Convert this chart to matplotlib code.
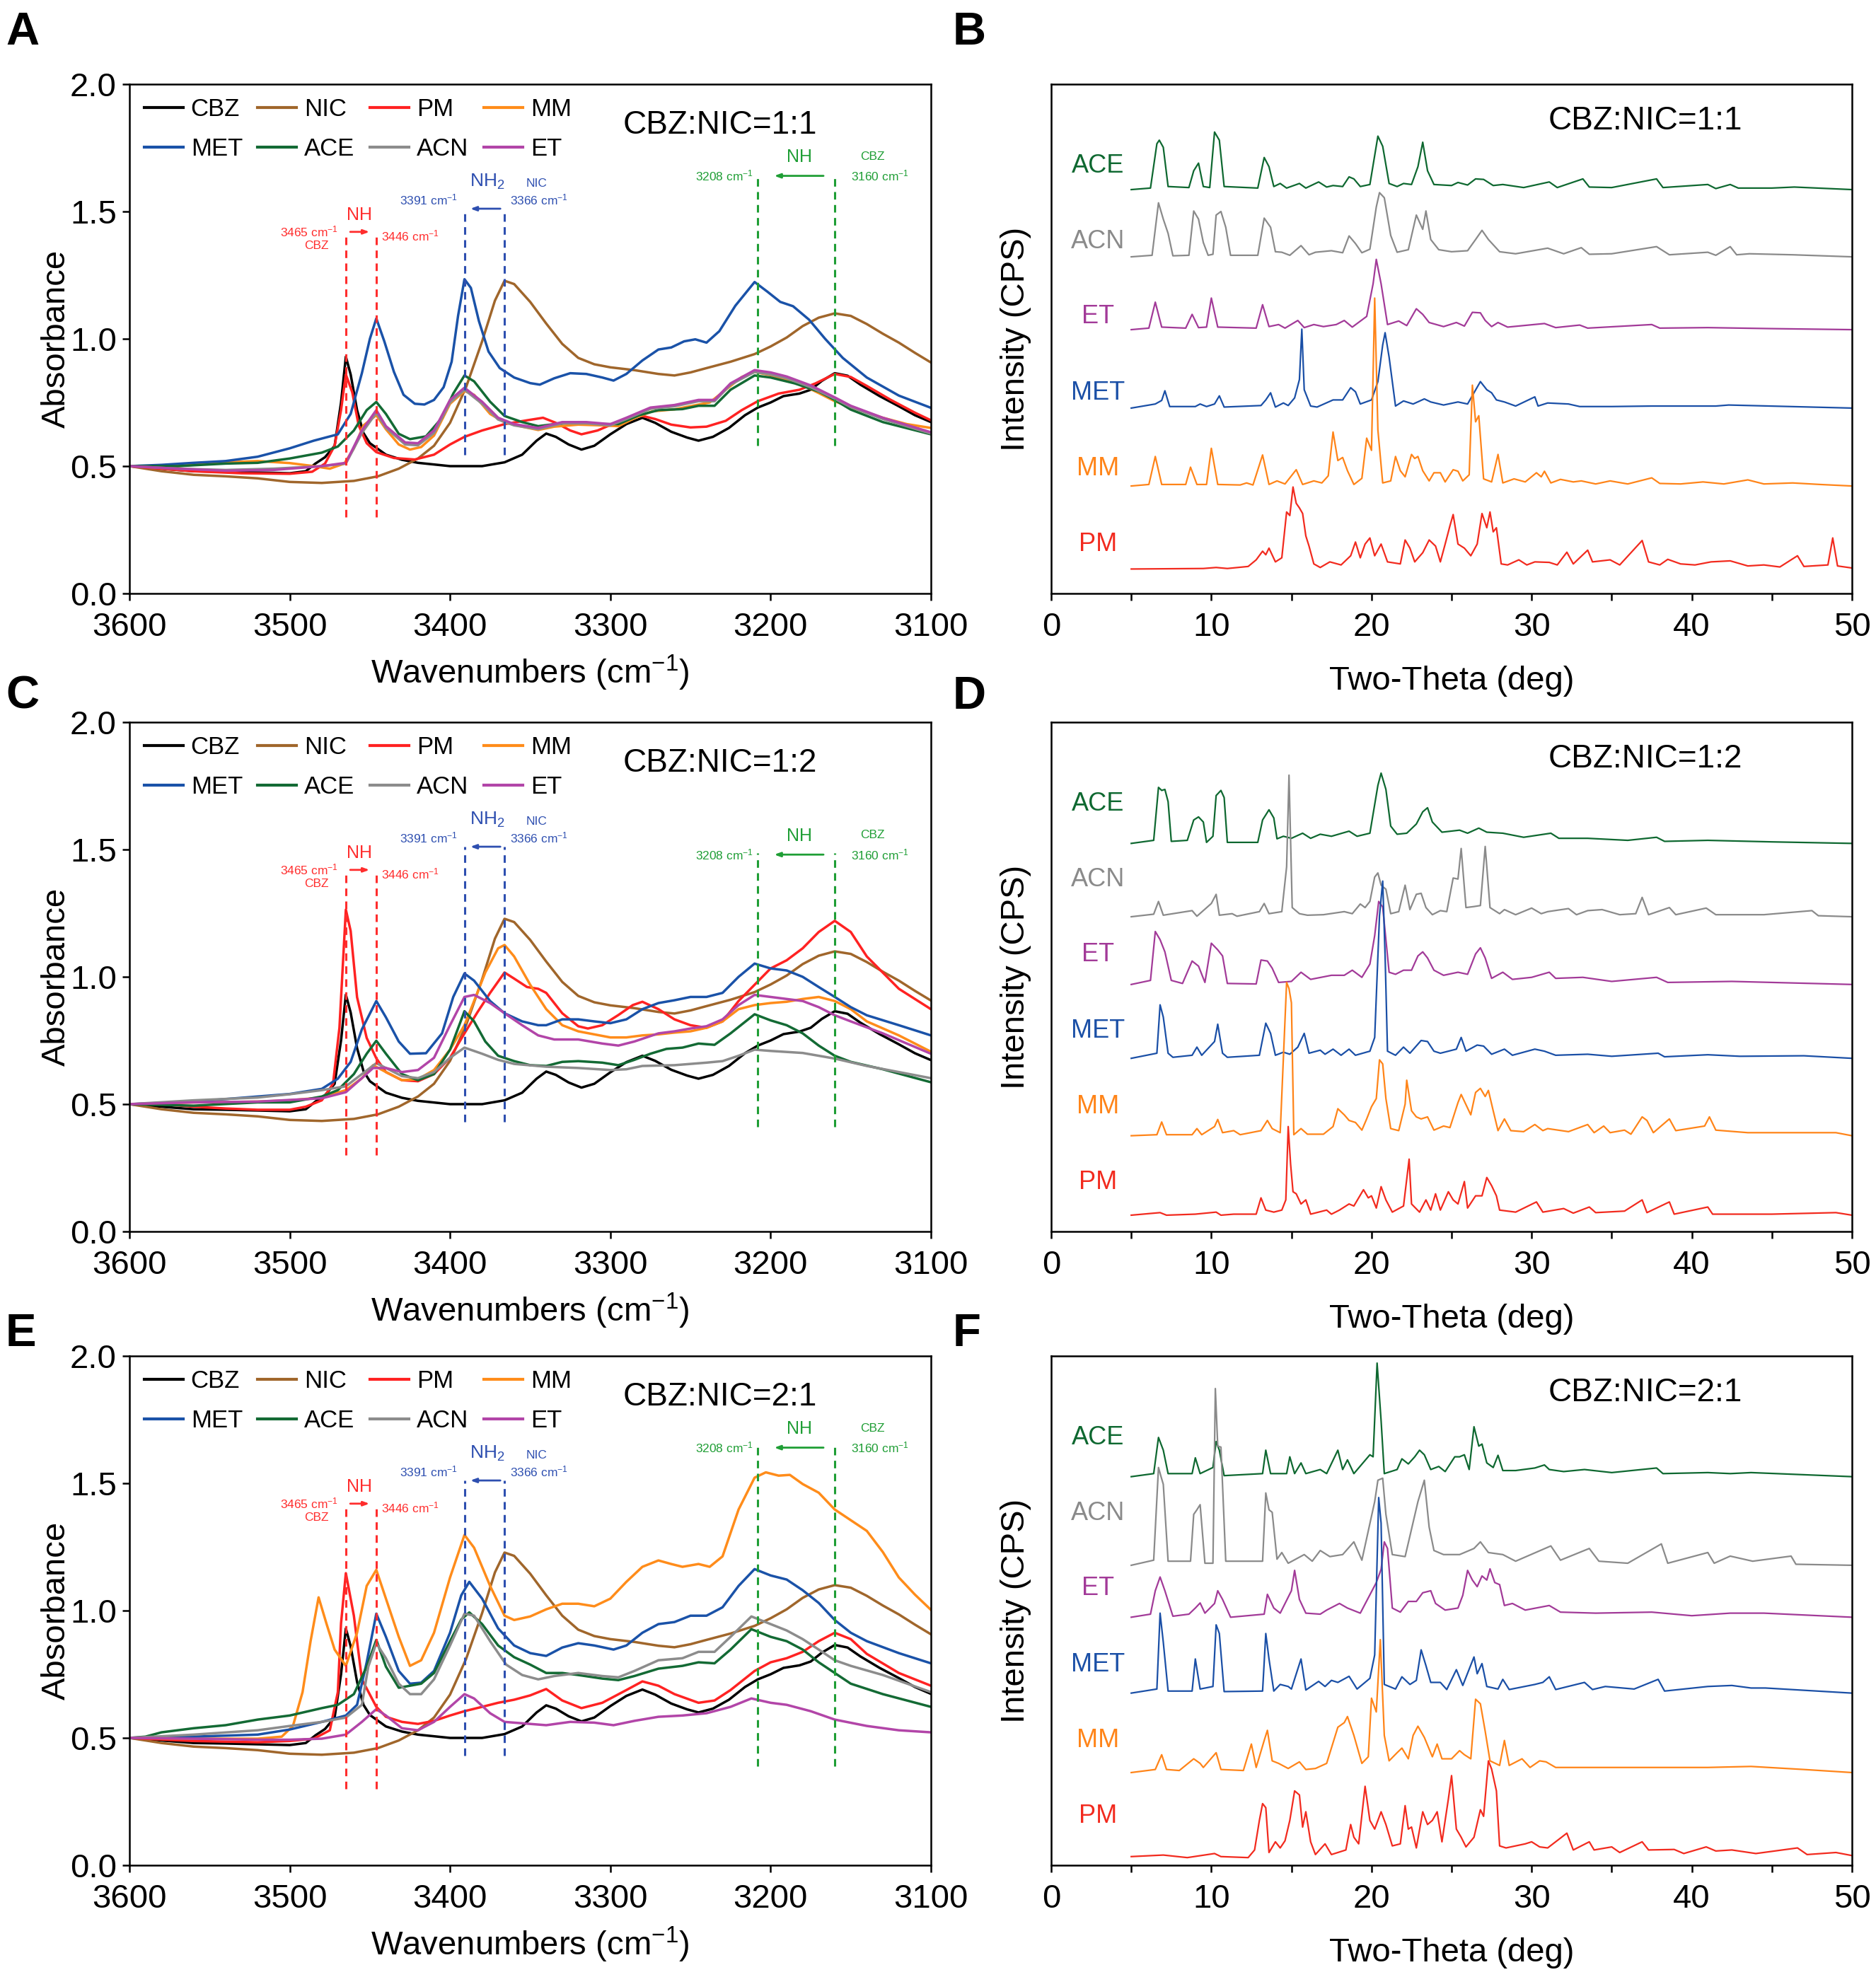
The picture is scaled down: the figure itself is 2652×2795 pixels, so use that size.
import numpy as np
import matplotlib
matplotlib.use("Agg")
import matplotlib.pyplot as plt
from matplotlib.ticker import MultipleLocator

plt.rcParams['font.family'] = ['Liberation Sans', 'DejaVu Sans']
plt.rcParams['mathtext.fontset'] = 'custom'
plt.rcParams['mathtext.rm'] = 'Liberation Sans'
plt.rcParams['mathtext.it'] = 'Liberation Sans:italic'
plt.rcParams['mathtext.bf'] = 'Liberation Sans:bold'
plt.rcParams['axes.linewidth'] = 1.8

# ---------------- FTIR data (wavenumber, absorbance) ----------------
ftir_cbz = [(3600,0.50),(3580,0.49),(3560,0.48),(3540,0.478),(3520,0.475),(3500,0.472),(3490,0.48),(3484,0.51),
            (3478,0.535),(3472,0.58),(3468,0.75),(3465,0.93),(3462,0.86),(3458,0.72),(3454,0.63),(3450,0.59),
            (3440,0.545),(3430,0.525),(3420,0.513),(3400,0.50),(3380,0.50),(3366,0.515),(3355,0.545),(3346,0.60),
            (3340,0.628),(3334,0.615),(3326,0.585),(3318,0.565),(3310,0.58),(3300,0.625),(3290,0.665),(3280,0.69),
            (3272,0.67),(3262,0.635),(3252,0.612),(3245,0.60),(3236,0.615),(3226,0.65),(3216,0.70),(3208,0.73),
            (3200,0.75),(3192,0.775),(3182,0.785),(3175,0.80),(3168,0.835),(3160,0.865),(3152,0.855),(3144,0.82),
            (3132,0.775),(3120,0.735),(3110,0.70),(3100,0.673)]
ftir_nic = [(3600,0.50),(3580,0.48),(3560,0.466),(3540,0.46),(3520,0.452),(3500,0.438),(3480,0.434),(3460,0.442),
            (3445,0.46),(3432,0.49),(3420,0.53),(3410,0.58),(3400,0.67),(3390,0.81),(3380,0.99),(3372,1.15),
            (3366,1.228),(3360,1.215),(3350,1.145),(3340,1.06),(3330,0.98),(3320,0.925),(3310,0.90),(3300,0.888),
            (3285,0.877),(3270,0.862),(3260,0.856),(3250,0.868),(3240,0.885),(3225,0.91),(3210,0.94),(3200,0.97),
            (3190,1.005),(3180,1.05),(3170,1.083),(3160,1.10),(3150,1.09),(3140,1.058),(3130,1.02),(3120,0.985),
            (3110,0.945),(3100,0.907)]

ftir_11_pm = [(3600,0.50),(3580,0.49),(3560,0.48),(3530,0.472),(3500,0.47),(3486,0.478),(3478,0.51),(3472,0.58),
              (3468,0.72),(3465,0.86),(3461,0.79),(3457,0.66),(3452,0.59),(3446,0.555),(3435,0.532),(3422,0.526),
              (3410,0.545),(3400,0.585),(3391,0.615),(3380,0.64),(3366,0.665),(3352,0.68),(3342,0.69),(3334,0.67),
              (3325,0.64),(3318,0.625),(3308,0.64),(3295,0.675),(3282,0.70),(3272,0.685),(3262,0.663),(3250,0.652),
              (3240,0.655),(3228,0.678),(3218,0.72),(3208,0.755),(3195,0.785),(3182,0.80),(3172,0.825),(3160,0.862),
              (3150,0.85),(3140,0.815),(3125,0.76),(3110,0.71),(3100,0.68)]
ftir_11_mm = [(3600,0.50),(3570,0.50),(3540,0.515),(3520,0.52),(3500,0.512),(3485,0.50),(3475,0.49),(3466,0.51),
              (3460,0.57),(3454,0.66),(3446,0.70),(3440,0.645),(3432,0.585),(3425,0.565),(3418,0.575),(3410,0.62),
              (3400,0.745),(3391,0.795),(3385,0.78),(3375,0.705),(3366,0.672),(3355,0.655),(3345,0.642),(3335,0.655),
              (3320,0.663),(3305,0.66),(3295,0.657),(3285,0.688),(3274,0.715),(3260,0.723),(3248,0.738),(3238,0.75),
              (3228,0.80),(3218,0.85),(3210,0.87),(3200,0.857),(3190,0.84),(3180,0.818),(3170,0.787),(3160,0.755),
              (3150,0.73),(3130,0.69),(3115,0.665),(3100,0.65)]
ftir_11_met = [(3600,0.50),(3580,0.505),(3560,0.513),(3540,0.52),(3520,0.537),(3500,0.57),(3485,0.60),(3470,0.625),
               (3462,0.705),(3455,0.865),(3450,1.0),(3446,1.08),(3441,0.99),(3435,0.87),(3429,0.78),(3422,0.745),
               (3416,0.742),(3410,0.76),(3404,0.81),(3399,0.91),(3395,1.09),(3391,1.234),(3387,1.20),(3382,1.07),
               (3376,0.95),(3369,0.885),(3360,0.848),(3350,0.826),(3344,0.82),(3335,0.845),(3325,0.865),(3315,0.862),
               (3305,0.848),(3298,0.836),(3290,0.862),(3280,0.915),(3270,0.958),(3262,0.966),(3254,0.99),(3247,0.998),
               (3240,0.985),(3232,1.03),(3222,1.13),(3210,1.223),(3202,1.185),(3194,1.145),(3186,1.128),(3176,1.075),
               (3166,1.0),(3155,0.925),(3140,0.848),(3120,0.777),(3100,0.729)]
ftir_11_ace = [(3600,0.50),(3570,0.50),(3540,0.51),(3520,0.513),(3500,0.53),(3480,0.553),(3470,0.577),(3460,0.64),
               (3452,0.72),(3446,0.752),(3440,0.705),(3432,0.627),(3425,0.606),(3415,0.617),(3405,0.69),(3398,0.785),
               (3391,0.856),(3385,0.833),(3375,0.753),(3366,0.697),(3355,0.673),(3345,0.657),(3335,0.665),(3320,0.673),
               (3305,0.665),(3295,0.665),(3282,0.70),(3270,0.72),(3255,0.724),(3245,0.737),(3235,0.737),(3225,0.80),
               (3210,0.856),(3200,0.848),(3185,0.825),(3170,0.793),(3160,0.76),(3150,0.722),(3130,0.673),(3100,0.625)]
ftir_11_acn = [(3600,0.50),(3570,0.49),(3540,0.485),(3510,0.49),(3480,0.50),(3465,0.51),(3455,0.63),(3446,0.71),
               (3440,0.65),(3428,0.585),(3420,0.582),(3410,0.63),(3400,0.75),(3391,0.80),(3380,0.745),(3370,0.683),
               (3360,0.66),(3345,0.645),(3330,0.668),(3315,0.668),(3300,0.66),(3290,0.685),(3275,0.725),(3260,0.735),
               (3245,0.755),(3235,0.755),(3225,0.82),(3210,0.87),(3200,0.86),(3190,0.845),(3175,0.81),(3160,0.765),
               (3150,0.732),(3130,0.685),(3100,0.628)]
ftir_11_et = [(3600,0.50),(3570,0.49),(3540,0.482),(3510,0.485),(3480,0.50),(3465,0.513),(3455,0.64),(3446,0.72),
              (3440,0.657),(3428,0.593),(3420,0.59),(3410,0.64),(3400,0.76),(3391,0.808),(3380,0.753),(3370,0.69),
              (3360,0.665),(3345,0.65),(3330,0.673),(3315,0.673),(3300,0.665),(3290,0.69),(3275,0.73),(3260,0.74),
              (3245,0.76),(3235,0.76),(3225,0.825),(3210,0.877),(3200,0.868),(3190,0.852),(3175,0.817),(3160,0.77),
              (3150,0.737),(3130,0.69),(3100,0.633)]

ftir_12_pm = [(3600,0.50),(3580,0.50),(3560,0.49),(3540,0.483),(3520,0.478),(3500,0.478),(3490,0.49),(3480,0.515),
              (3473,0.58),(3469,0.80),(3465,1.264),(3462,1.18),(3458,0.92),(3452,0.76),(3446,0.68),(3440,0.626),
              (3430,0.594),(3420,0.59),(3410,0.618),(3400,0.682),(3391,0.778),(3383,0.86),(3375,0.937),(3366,1.017),
              (3360,0.993),(3352,0.96),(3345,0.953),(3340,0.937),(3330,0.857),(3320,0.806),(3314,0.797),(3305,0.81),
              (3295,0.85),(3286,0.889),(3280,0.902),(3270,0.873),(3260,0.833),(3250,0.81),(3240,0.80),(3230,0.825),
              (3220,0.905),(3210,0.969),(3200,1.033),(3190,1.065),(3180,1.112),(3170,1.176),(3160,1.22),(3150,1.176),
              (3140,1.08),(3120,0.953),(3100,0.873)]
ftir_12_mm = [(3600,0.50),(3560,0.507),(3520,0.51),(3500,0.515),(3480,0.526),(3465,0.555),(3455,0.602),(3448,0.653),
              (3440,0.626),(3430,0.594),(3420,0.598),(3410,0.634),(3400,0.714),(3391,0.81),(3385,0.905),(3378,1.017),
              (3370,1.112),(3366,1.125),(3360,1.08),(3350,0.969),(3340,0.873),(3330,0.81),(3320,0.786),(3310,0.774),
              (3300,0.762),(3290,0.762),(3280,0.77),(3270,0.774),(3260,0.781),(3250,0.786),(3240,0.80),(3230,0.825),
              (3220,0.873),(3210,0.889),(3200,0.897),(3190,0.902),(3180,0.913),(3170,0.921),(3160,0.905),(3150,0.873),
              (3140,0.825),(3120,0.77),(3100,0.706)]
ftir_12_met = [(3600,0.50),(3560,0.51),(3520,0.53),(3500,0.54),(3480,0.56),(3470,0.60),(3462,0.666),(3455,0.794),
               (3446,0.905),(3440,0.841),(3432,0.746),(3425,0.698),(3415,0.70),(3405,0.778),(3398,0.921),(3391,1.013),
               (3385,0.985),(3375,0.905),(3366,0.857),(3355,0.825),(3345,0.81),(3340,0.81),(3330,0.833),(3320,0.833),
               (3310,0.825),(3300,0.818),(3290,0.833),(3280,0.873),(3270,0.897),(3260,0.908),(3250,0.921),(3240,0.921),
               (3230,0.937),(3220,1.0),(3210,1.052),(3200,1.033),(3190,1.025),(3180,1.0),(3170,0.96),(3160,0.921),
               (3150,0.881),(3140,0.849),(3120,0.81),(3100,0.77)]
ftir_12_ace = [(3600,0.50),(3560,0.494),(3520,0.507),(3500,0.507),(3480,0.53),(3470,0.555),(3460,0.618),(3452,0.698),
               (3446,0.749),(3440,0.698),(3430,0.618),(3420,0.594),(3410,0.618),(3400,0.714),(3391,0.865),(3385,0.825),
               (3378,0.746),(3370,0.69),(3360,0.669),(3350,0.653),(3340,0.65),(3330,0.666),(3320,0.669),(3305,0.663),
               (3295,0.653),(3285,0.674),(3275,0.698),(3265,0.717),(3255,0.722),(3245,0.738),(3235,0.733),(3225,0.778),
               (3210,0.853),(3200,0.829),(3190,0.81),(3180,0.778),(3170,0.73),(3160,0.69),(3150,0.666),(3130,0.637),
               (3100,0.586)]
ftir_12_acn = [(3600,0.50),(3560,0.515),(3520,0.526),(3500,0.539),(3480,0.555),(3465,0.57),(3455,0.618),(3446,0.661),
               (3440,0.642),(3430,0.61),(3420,0.602),(3410,0.626),(3400,0.682),(3391,0.722),(3380,0.698),(3370,0.674),
               (3360,0.658),(3340,0.647),(3320,0.642),(3300,0.634),(3290,0.637),(3280,0.65),(3260,0.653),(3240,0.663),
               (3230,0.669),(3220,0.69),(3210,0.714),(3200,0.709),(3180,0.701),(3160,0.679),(3140,0.65),(3120,0.626),
               (3100,0.602)]
ftir_12_et = [(3600,0.50),(3560,0.507),(3520,0.51),(3480,0.523),(3465,0.547),(3455,0.602),(3448,0.642),(3440,0.642),
              (3430,0.626),(3420,0.634),(3410,0.682),(3400,0.81),(3391,0.921),(3385,0.929),(3375,0.897),(3366,0.857),
              (3355,0.81),(3345,0.77),(3335,0.754),(3320,0.754),(3305,0.738),(3295,0.73),(3285,0.746),(3270,0.778),
              (3260,0.786),(3250,0.797),(3240,0.806),(3230,0.833),(3220,0.889),(3210,0.929),(3200,0.921),(3190,0.913),
              (3180,0.905),(3170,0.881),(3160,0.849),(3150,0.825),(3130,0.778),(3100,0.698)]

ftir_21_pm = [(3600,0.50),(3560,0.488),(3520,0.483),(3500,0.488),(3485,0.497),(3475,0.53),(3470,0.68),(3468,0.95),
              (3465,1.147),(3460,0.98),(3455,0.73),(3446,0.622),(3440,0.583),(3430,0.563),(3420,0.555),(3410,0.567),
              (3400,0.588),(3391,0.605),(3380,0.622),(3370,0.638),(3360,0.65),(3350,0.667),(3340,0.692),(3330,0.647),
              (3318,0.617),(3305,0.638),(3290,0.688),(3280,0.722),(3270,0.705),(3260,0.672),(3245,0.638),(3235,0.647),
              (3225,0.688),(3210,0.763),(3200,0.797),(3190,0.813),(3180,0.838),(3170,0.88),(3160,0.913),(3150,0.888),
              (3140,0.83),(3120,0.755),(3100,0.705)]
ftir_21_mm = [(3600,0.50),(3560,0.497),(3520,0.497),(3505,0.505),(3498,0.547),(3492,0.68),(3487,0.88),(3482,1.052),
              (3477,0.947),(3472,0.847),(3465,0.783),(3458,0.913),(3452,1.097),(3446,1.16),(3440,1.047),(3432,0.897),
              (3425,0.783),(3418,0.805),(3410,0.913),(3400,1.13),(3391,1.297),(3385,1.247),(3375,1.097),(3366,0.98),
              (3360,0.963),(3350,0.977),(3340,1.005),(3330,1.027),(3320,1.027),(3310,1.017),(3300,1.047),(3290,1.113),
              (3280,1.172),(3270,1.197),(3262,1.183),(3255,1.172),(3245,1.183),(3238,1.172),(3230,1.213),(3220,1.397),
              (3210,1.522),(3203,1.543),(3195,1.53),(3188,1.533),(3180,1.497),(3170,1.463),(3160,1.397),(3150,1.355),
              (3140,1.313),(3130,1.23),(3120,1.13),(3110,1.063),(3100,1.003)]
ftir_21_met = [(3600,0.50),(3560,0.505),(3520,0.513),(3500,0.533),(3480,0.563),(3465,0.588),(3458,0.63),(3452,0.797),
               (3446,0.988),(3440,0.897),(3432,0.763),(3425,0.713),(3418,0.717),(3410,0.763),(3400,0.913),(3393,1.06),
               (3388,1.113),(3380,1.047),(3370,0.93),(3360,0.863),(3350,0.833),(3340,0.822),(3330,0.855),(3320,0.872),
               (3310,0.863),(3298,0.847),(3290,0.863),(3280,0.913),(3270,0.947),(3260,0.955),(3250,0.98),(3240,0.98),
               (3230,1.013),(3220,1.097),(3210,1.163),(3200,1.138),(3190,1.122),(3180,1.08),(3170,1.03),(3160,0.963),
               (3150,0.913),(3140,0.88),(3120,0.833),(3100,0.793)]
ftir_21_ace = [(3600,0.50),(3590,0.505),(3580,0.522),(3560,0.538),(3540,0.55),(3520,0.572),(3500,0.588),(3480,0.617),
               (3470,0.63),(3460,0.672),(3452,0.78),(3446,0.885),(3440,0.78),(3432,0.697),(3425,0.705),(3418,0.713),
               (3410,0.755),(3400,0.88),(3393,0.965),(3388,0.993),(3380,0.947),(3370,0.863),(3360,0.817),(3350,0.788),
               (3340,0.755),(3330,0.755),(3320,0.747),(3305,0.733),(3295,0.727),(3285,0.743),(3270,0.772),(3255,0.783),
               (3245,0.797),(3235,0.793),(3225,0.847),(3212,0.927),(3200,0.897),(3190,0.88),(3180,0.847),(3170,0.797),
               (3160,0.755),(3150,0.713),(3130,0.672),(3100,0.622)]
ftir_21_acn = [(3600,0.50),(3560,0.513),(3520,0.53),(3500,0.547),(3480,0.563),(3465,0.58),(3455,0.63),(3451,0.78),
               (3446,0.872),(3440,0.813),(3432,0.713),(3425,0.672),(3418,0.672),(3410,0.73),(3400,0.863),(3391,0.988),
               (3385,0.98),(3375,0.88),(3365,0.788),(3355,0.747),(3345,0.73),(3335,0.743),(3320,0.755),(3305,0.743),
               (3295,0.738),(3285,0.763),(3270,0.805),(3255,0.813),(3245,0.838),(3235,0.838),(3225,0.897),(3212,0.977),
               (3200,0.947),(3190,0.922),(3180,0.888),(3170,0.847),(3160,0.805),(3150,0.783),(3130,0.747),(3100,0.68)]
ftir_21_et = [(3600,0.50),(3560,0.497),(3520,0.493),(3500,0.493),(3480,0.497),(3465,0.513),(3455,0.563),(3446,0.613),
              (3440,0.588),(3430,0.538),(3420,0.53),(3410,0.563),(3400,0.622),(3391,0.672),(3385,0.655),(3375,0.597),
              (3366,0.563),(3350,0.555),(3340,0.55),(3325,0.563),(3310,0.56),(3298,0.55),(3285,0.567),(3270,0.583),
              (3255,0.588),(3240,0.597),(3225,0.622),(3212,0.655),(3200,0.638),(3190,0.63),(3175,0.605),(3160,0.572),
              (3140,0.547),(3120,0.53),(3100,0.522)]

# ---------------- PXRD data (two-theta, intensity above own baseline) ----------------
xrd_11_ace = [(5,0),(6.2,0.3),(6.6,9.0),(6.75,9.7),(7.0,8.3),(7.3,0.6),(8.6,0.4),(8.9,3.7),(9.2,5.2),(9.5,0.6),
              (9.9,0.4),(10.2,11.3),(10.5,9.7),(10.8,0.6),(12.9,0.3),(13.3,6.3),(13.6,4.5),(13.9,0.6),(14.3,1.2),
              (14.7,0.3),(15.5,1.2),(15.9,0.3),(16.7,1.5),(17.2,0.5),(17.6,0.8),(18.2,0.6),(18.6,2.5),(18.9,2.1),
              (19.3,0.6),(19.9,1.0),(20.4,10.5),(20.7,8.5),(21.1,1.2),(21.6,0.6),(22.0,1.2),(22.5,1.0),(22.9,4.5),
              (23.2,9.3),(23.5,3.7),(23.9,1.0),(25.0,0.8),(25.4,1.4),(26.0,0.9),(26.5,2.1),(27.0,2.0),(27.6,0.8),
              (28.2,1.0),(29.5,0.4),(31.1,1.5),(31.6,0.4),(33.2,2.1),(33.6,0.5),(35.0,0.4),(37.8,2.1),(38.2,0.4),
              (41.0,1.0),(41.5,0.2),(42.4,1.0),(42.9,0.3),(45.0,0.3),(46.4,0.5),(50,0)]
xrd_11_acn = [(5,0),(6.3,0.3),(6.7,10.6),(7.0,7.4),(7.3,4.6),(7.6,0.2),(8.6,0.3),(8.9,9.0),(9.2,7.4),(9.5,2.8),
              (9.8,0.3),(10.1,0.5),(10.3,8.2),(10.6,8.9),(10.9,5.8),(11.2,0.3),(12.9,0.3),(13.3,7.6),(13.7,5.8),
              (14.0,1.0),(14.4,0.9),(14.9,0.3),(15.6,2.2),(16.1,0.4),(16.5,0.9),(17.5,1.2),(18.2,0.8),(18.6,4.1),
              (19.0,2.6),(19.4,0.8),(19.9,1.5),(20.3,9.8),(20.5,12.6),(20.8,11.6),(21.2,4.2),(21.6,0.9),(22.3,1.4),
              (22.8,8.2),(23.2,5.4),(23.4,9.0),(23.7,3.4),(24.2,1.4),(25.0,1.0),(26.0,1.2),(26.5,3.4),(26.9,5.2),
              (27.3,3.4),(28.0,1.0),(29.0,0.6),(31.0,1.7),(32.0,0.6),(33.1,1.8),(33.6,0.5),(35.0,0.6),(37.8,2.0),
              (38.1,1.4),(38.6,0.4),(41.0,0.9),(41.5,0.3),(42.4,2.0),(42.8,0.4),(43.6,0.6),(46.3,0.4),(50,0)]
xrd_11_et = [(5,0),(6.1,0.3),(6.5,5.4),(6.9,0.5),(8.4,0.3),(8.8,3.0),(9.2,0.4),(9.7,0.5),(10.0,6.2),(10.4,0.5),
             (12.8,0.3),(13.2,4.9),(13.6,0.6),(14.2,1.0),(14.6,0.3),(15.4,1.8),(15.8,0.4),(16.4,1.0),(17.0,0.6),
             (17.8,1.0),(18.3,1.8),(18.8,0.5),(19.7,2.6),(20.1,9.0),(20.3,13.8),(20.6,9.0),(21.0,1.0),(21.7,1.7),
             (22.2,0.8),(22.8,4.1),(23.2,3.0),(23.6,1.4),(24.5,0.6),(25.3,1.4),(25.8,0.7),(26.3,3.4),(26.8,3.3),
             (27.1,1.8),(27.5,0.6),(27.9,1.4),(28.5,0.5),(30.8,1.2),(31.5,0.4),(33.0,0.9),(33.5,0.3),(37.5,1.0),
             (38.0,0.3),(41.0,0.4),(45,0.2),(50,0)]
xrd_11_met = [(5,0),(6.5,0.8),(6.9,1.5),(7.1,3.4),(7.4,0.3),(9.0,0.3),(9.3,0.8),(9.7,0.3),(10.2,0.8),(10.5,2.4),
              (10.8,0.2),(13.1,0.5),(13.4,1.6),(13.7,3.0),(14.0,0.2),(14.5,1.0),(14.8,0.5),(15.2,2.0),(15.5,5.6),
              (15.65,15.5),(15.8,3.6),(16.2,0.4),(16.6,0.2),(17.6,1.6),(18.2,1.6),(18.7,4.0),(19.0,3.2),(19.3,0.8),
              (20.0,1.6),(20.4,5.2),(20.7,12.4),(20.85,14.8),(21.1,10.0),(21.5,0.4),(22.0,1.4),(22.6,0.8),(23.3,1.8),
              (23.7,1.2),(24.5,0.6),(25.4,1.2),(26.0,0.8),(26.4,3.0),(26.8,5.2),(27.2,3.6),(27.5,3.0),(27.8,1.6),
              (28.3,1.2),(29.0,0.4),(30.2,2.2),(30.4,0.4),(31.0,1.0),(32.3,0.8),(33.0,0.3),(35,0.3),(37.5,0.4),
              (41.5,0.4),(42.3,0.6),(50,0)]
xrd_11_mm = [(5,0),(6.1,0.3),(6.5,5.8),(6.9,0.3),(8.4,0.3),(8.7,3.7),(9.1,0.3),(9.7,0.3),(10.0,7.4),(10.4,0.3),
             (11.8,0.2),(12.2,0.6),(12.6,0.2),(13.2,6.1),(13.6,0.3),(14.1,1.0),(14.6,0.4),(15.3,3.2),(15.7,0.3),
             (16.4,1.0),(16.9,0.6),(17.3,2.0),(17.6,10.6),(17.9,5.0),(18.2,5.6),(18.5,3.0),(18.9,0.3),(19.4,1.5),
             (19.7,9.4),(20.0,7.0),(20.2,36.9),(20.4,11.0),(20.7,0.6),(21.2,1.0),(21.5,5.8),(21.8,3.0),(22.1,1.8),
             (22.5,6.2),(22.7,5.4),(22.9,5.8),(23.2,3.0),(23.6,1.0),(23.9,2.6),(24.3,2.6),(24.6,0.8),(25.1,3.2),
             (25.4,2.9),(25.7,1.0),(26.1,2.2),(26.3,19.8),(26.5,12.6),(26.7,13.8),(27.0,1.4),(27.5,0.8),(27.9,6.2),
             (28.2,0.6),(28.9,1.4),(29.6,0.8),(30.3,2.6),(30.6,1.8),(30.8,2.9),(31.2,0.6),(31.8,1.3),(32.6,0.8),
             (33.1,1.0),(34.0,0.4),(34.9,1.0),(36,0.4),(37.5,1.6),(38.0,0.5),(39.3,0.4),(40.7,0.8),(42,0.4),
             (43.5,1.2),(44.5,0.4),(46.3,0.6),(48,0.3),(50,0)]
xrd_11_pm = [(5,0),(9.5,0.1),(10.3,0.3),(11.0,0.1),(12.3,0.5),(12.8,1.8),(13.2,3.5),(13.4,2.8),(13.6,4.1),(14.0,1.4),
             (14.4,2.2),(14.7,11.2),(14.9,10.5),(15.1,16.1),(15.3,12.9),(15.5,12.0),(15.7,10.9),(15.9,6.5),(16.1,4.5),
             (16.4,1.0),(16.8,0.3),(17.4,1.4),(18.1,0.8),(18.7,2.6),(19.0,5.3),(19.3,2.2),(19.6,4.9),(19.9,6.1),
             (20.2,2.6),(20.6,4.9),(21.0,1.4),(21.8,1.0),(22.1,5.7),(22.4,4.1),(22.7,1.4),(23.2,3.2),(23.6,5.7),
             (24.0,4.5),(24.3,1.4),(24.6,4.9),(24.9,8.5),(25.1,10.7),(25.4,4.9),(25.8,4.1),(26.2,2.6),(26.6,4.9),
             (26.9,10.9),(27.2,8.1),(27.4,11.2),(27.6,7.3),(27.8,8.1),(28.1,1.0),(28.5,0.8),(29.2,1.8),(29.7,0.8),
             (30.2,1.4),(31.1,1.3),(31.6,0.8),(32.2,3.3),(32.6,1.0),(33.5,3.7),(33.8,1.4),(34.9,1.8),(35.5,0.8),
             (36.9,5.6),(37.3,1.4),(38.0,0.8),(38.5,1.9),(39.3,1.0),(40.2,0.8),(41.2,1.4),(42.4,1.6),(43.5,0.6),
             (44.5,0.8),(45.5,0.4),(46.6,2.6),(47.0,0.5),(48.5,0.8),(48.8,6.1),(49.1,0.6),(50,0.2)]

xrd_12_ace = [(5,0),(6.4,0.6),(6.7,11.0),(6.9,10.4),(7.1,10.6),(7.3,8.2),(7.5,0.4),(8.5,0.6),(8.9,4.6),(9.2,5.2),
              (9.5,4.2),(9.7,0.2),(10.1,1.4),(10.3,9.4),(10.6,10.4),(10.8,9.0),(11.0,0.2),(12.9,0.2),(13.2,4.6),
              (13.6,6.6),(13.9,5.0),(14.1,0.9),(14.5,1.4),(15.0,1.0),(15.7,2.0),(16.2,1.0),(16.8,1.8),(17.5,1.4),
              (18.6,2.4),(19.1,1.4),(19.9,2.0),(20.4,11.4),(20.6,13.8),(20.9,10.6),(21.2,3.4),(21.6,1.8),(22.2,2.0),
              (22.8,3.8),(23.2,6.2),(23.5,7.0),(23.8,4.2),(24.4,2.2),(25.5,2.6),(26.0,2.0),(26.7,3.0),(27.2,2.2),
              (28.2,2.0),(29.5,1.2),(31.2,2.0),(31.7,1.0),(33.5,1.0),(36,0.6),(37.8,1.2),(38.3,0.4),(41.0,0.6),
              (45,0.3),(50,0)]
xrd_12_acn = [(5,0),(6.4,0.5),(6.7,3.0),(7.0,0.3),(8.8,1.2),(9.1,0.1),(10.0,2.6),(10.3,4.4),(10.5,0.3),(11.3,0.6),
              (11.6,0.1),(13.0,1.0),(13.3,2.6),(13.6,0.6),(14.4,1.0),(14.7,9.8),(14.85,27.8),(15.05,1.8),(15.5,0.6),
              (16.0,0.3),(17.0,0.4),(18.3,1.0),(18.8,0.6),(19.3,2.5),(19.6,1.8),(19.9,3.0),(20.2,7.8),(20.4,8.6),
              (20.6,6.2),(20.9,5.4),(21.2,0.6),(21.7,1.0),(22.1,6.2),(22.4,1.4),(22.8,4.4),(23.1,4.6),(23.4,1.8),
              (23.8,0.4),(24.3,1.2),(24.7,1.0),(25.1,7.6),(25.4,7.4),(25.6,13.4),(25.9,1.8),(26.4,2.0),(26.8,2.2),
              (27.1,13.8),(27.4,1.8),(28.0,0.6),(28.3,1.4),(29.0,0.4),(30.0,1.7),(30.6,0.6),(31.0,1.0),(32.3,1.6),
              (32.8,0.4),(33.5,1.2),(34.4,1.4),(35.5,0.4),(36.5,0.6),(36.9,3.8),(37.3,0.4),(38.6,1.8),(39.0,0.4),
              (40.9,1.7),(41.5,0.4),(44.5,0.4),(47.5,1.2),(47.9,0.2),(50,0)]
xrd_12_et = [(5,0),(6.2,0.8),(6.5,10.4),(6.8,8.8),(7.1,6.4),(7.5,0.8),(8.2,0.2),(8.8,4.6),(9.2,3.6),(9.6,0.4),
             (10.0,8.1),(10.4,6.8),(10.7,5.6),(11.0,0.2),(12.8,0.1),(13.1,4.8),(13.5,4.6),(13.8,3.2),(14.2,0.4),
             (15.0,0.6),(15.6,2.4),(16.2,1.0),(17.5,1.8),(18.3,1.8),(18.8,2.8),(19.4,1.4),(19.9,4.0),(20.2,9.6),
             (20.45,16.3),(20.7,15.2),(20.9,8.8),(21.1,2.4),(21.5,2.0),(22.0,2.8),(22.5,2.8),(22.9,5.6),(23.2,6.4),
             (23.5,5.2),(23.9,2.8),(24.5,1.8),(25.4,2.4),(26.0,2.0),(26.5,6.0),(26.8,7.2),(27.1,5.2),(27.5,1.2),
             (28.2,2.4),(28.8,1.0),(30.0,1.4),(31.1,2.4),(31.5,1.2),(33.2,1.4),(35,0.6),(37.8,1.4),(38.5,0.4),
             (42.5,0.6),(50,0)]
xrd_12_met = [(5,0),(6.6,1.0),(6.8,10.5),(7.0,8.1),(7.3,1.0),(7.6,0.2),(8.8,0.6),(9.1,2.2),(9.4,0.6),(10.2,3.3),
              (10.4,6.7),(10.7,1.0),(11.0,0.2),(13.0,0.6),(13.4,6.9),(13.7,4.9),(14.0,0.6),(14.5,1.2),(14.9,0.8),
              (15.4,2.2),(15.8,4.9),(16.1,1.0),(16.8,1.6),(17.1,0.8),(17.6,1.8),(18.1,0.6),(18.6,1.8),(19.0,0.6),
              (19.9,1.4),(20.2,4.1),(20.5,28.0),(20.7,34.8),(20.85,20.1),(21.0,1.4),(21.5,0.6),(22.0,2.2),(22.4,1.0),
              (23.1,3.5),(23.5,3.3),(23.9,1.4),(24.3,1.0),(25.3,1.8),(25.6,4.1),(25.9,1.4),(26.6,2.6),(27.0,2.4),
              (27.5,0.8),(28.3,1.8),(28.8,0.6),(30.2,1.8),(30.8,1.4),(31.5,0.6),(33.5,0.8),(35,0.4),(37.9,1.0),
              (38.3,0.3),(41.0,0.7),(43,0.4),(47,0.5),(50,0)]
xrd_12_mm = [(5,0),(6.6,0.2),(6.9,2.7),(7.2,0.2),(8.8,0.2),(9.1,1.4),(9.4,0.2),(10.2,1.8),(10.4,3.2),(10.7,0.6),
             (11.4,1.0),(11.8,0.2),(13.1,1.0),(13.5,3.0),(13.8,1.4),(14.3,0.6),(14.7,30.1),(14.85,28.9),(15.0,26.1),
             (15.15,0.2),(15.6,1.4),(16.0,0.3),(17.0,0.3),(17.6,1.8),(17.9,5.3),(18.3,4.1),(18.6,3.0),(19.0,2.6),
             (19.4,1.1),(19.7,3.3),(20.0,5.7),(20.3,7.3),(20.5,14.9),(20.7,14.1),(20.9,7.3),(21.2,1.4),(21.7,1.0),
             (22.1,6.2),(22.2,10.9),(22.5,4.9),(22.8,3.7),(23.1,3.3),(23.5,3.7),(23.9,1.1),(24.5,1.9),(24.9,1.6),
             (25.4,6.5),(25.6,8.1),(25.9,6.1),(26.2,4.1),(26.5,8.5),(26.8,9.3),(27.1,7.7),(27.3,8.9),(27.6,4.9),
             (27.9,1.0),(28.3,3.3),(28.7,1.0),(29.5,0.8),(30.2,2.2),(30.7,1.0),(31.0,1.4),(32.3,0.8),(33.5,2.2),
             (33.9,0.6),(34.5,1.9),(34.9,0.6),(35.8,1.1),(36.2,0.3),(36.9,3.7),(37.2,3.0),(37.6,0.6),(38.6,3.3),
             (39.0,1.0),(40.8,1.9),(41.1,3.7),(41.5,1.1),(43.5,0.6),(47,0.6),(49,0.6),(50,0)]
xrd_12_pm = [(5,0),(6.8,0.5),(7.2,0),(9.0,0.2),(10.3,0.6),(10.6,0),(11.4,0.2),(12.8,0.2),(13.1,3.4),(13.4,1.0),
             (13.9,0.6),(14.4,1.0),(14.65,3.0),(14.8,17.4),(14.95,10.0),(15.1,4.6),(15.3,4.2),(15.6,2.2),(15.9,3.0),
             (16.2,0.2),(17.2,1.0),(17.5,0.2),(18.0,1.0),(18.6,2.2),(18.9,1.8),(19.5,5.0),(19.8,3.4),(20.0,3.8),
             (20.3,1.4),(20.6,5.6),(20.9,3.0),(21.3,0.6),(22.0,1.8),(22.35,11.0),(22.5,2.2),(23.0,0.6),(23.4,3.0),
             (23.7,1.0),(24.0,4.2),(24.3,1.0),(24.8,4.6),(25.1,3.0),(25.4,2.2),(25.8,6.6),(26.0,1.4),(26.5,3.8),
             (26.9,3.8),(27.2,7.4),(27.5,5.8),(27.8,3.8),(28.0,1.0),(29.0,0.6),(30.3,2.6),(30.7,0.6),(32.0,1.3),
             (32.6,0.4),(33.6,1.6),(34.0,0.5),(35.8,0.8),(36.9,3.0),(37.2,0.5),(38.6,2.6),(38.9,0.2),(41.0,1.6),
             (41.3,0.2),(45,0.2),(49,0.5),(50,0)]

xrd_21_ace = [(5,0),(6.4,0.6),(6.7,7.7),(7.0,5.2),(7.3,0.6),(8.8,0.6),(9.0,3.7),(9.3,0.6),(10.1,1.8),(10.3,6.9),
              (10.5,5.2),(10.8,0.2),(13.2,0.6),(13.4,5.2),(13.7,0.6),(14.7,0.6),(14.9,3.9),(15.2,0.6),(15.6,2.7),
              (15.9,0.6),(16.8,1.4),(17.2,0.6),(17.9,5.2),(18.2,1.4),(18.5,3.3),(18.9,0.6),(19.9,4.3),(20.1,3.9),
              (20.35,22.3),(20.6,11.0),(20.8,0.6),(21.6,1.4),(21.9,3.5),(22.3,2.5),(22.7,3.9),(23.0,5.2),(23.3,4.3),
              (23.7,1.4),(24.2,2.0),(24.6,1.0),(25.2,3.9),(25.5,3.9),(25.8,4.3),(26.1,1.4),(26.4,9.8),(26.7,6.0),
              (26.9,6.4),(27.2,2.7),(27.6,1.8),(27.9,4.2),(28.2,1.2),(29.0,1.2),(30.2,1.7),(30.8,2.3),(31.1,1.4),
              (32.0,1.0),(33.3,1.4),(35,0.8),(37.8,1.7),(38.2,0.6),(41.0,0.8),(42.4,0.6),(43.7,0.8),(50,0)]
xrd_21_acn = [(5,0),(6.4,1.0),(6.7,19.2),(6.85,17.5),(7.0,15.9),(7.3,0.8),(8.7,0.8),(8.9,10.0),(9.1,10.9),(9.3,11.9),
              (9.6,0.4),(10.1,0.4),(10.25,34.7),(10.4,23.4),(10.6,23.2),(10.9,0.8),(13.2,0.8),(13.4,14.2),(13.6,10.9),
              (13.8,10.4),(14.1,1.2),(14.4,2.5),(14.8,0.4),(15.8,2.1),(16.3,0.8),(16.8,2.9),(17.4,1.7),(18.2,2.1),
              (18.9,4.6),(19.4,1.0),(20.2,12.5),(20.4,16.7),(20.7,17.1),(20.9,10.0),(21.3,2.1),(22.1,1.7),(22.9,12.5),
              (23.3,16.7),(23.6,7.5),(23.9,2.9),(24.5,2.1),(25.5,2.1),(26.4,3.3),(26.8,4.6),(27.3,2.5),(28.2,2.1),
              (29.0,0.8),(31.2,3.8),(31.8,1.0),(33.6,3.3),(34.2,0.8),(36,0.4),(38.1,4.2),(38.5,0.4),(41.0,2.5),
              (41.4,0.4),(42.4,1.8),(43.8,0.8),(46.2,1.8),(46.5,0.2),(50,0)]
xrd_21_et = [(5,0),(6.2,0.6),(6.5,5.2),(6.8,7.9),(7.1,5.2),(7.6,0.2),(8.6,0.6),(9.0,1.8),(9.3,2.8),(9.6,0.8),
             (10.2,2.7),(10.4,5.2),(10.7,3.5),(11.2,0),(13.3,0.6),(13.5,4.5),(13.9,1.8),(14.3,0.8),(15.0,5.2),
             (15.2,9.2),(15.5,3.5),(15.9,0.8),(16.8,0.6),(17.2,1.4),(18.0,2.7),(18.5,1.8),(19.3,0.8),(20.3,6.8),
             (20.6,9.4),(20.8,14.8),(21.0,13.5),(21.3,1.8),(21.8,1.0),(22.3,3.1),(22.8,3.1),(23.2,4.8),(23.7,5.2),
             (24.0,2.7),(24.6,1.4),(25.4,1.8),(25.7,4.3),(26.0,9.2),(26.3,7.3),(26.6,6.0),(26.9,8.1),(27.2,7.3),
             (27.4,9.5),(27.7,6.8),(28.0,6.4),(28.3,2.3),(28.8,2.7),(29.6,1.4),(31.1,2.3),(31.8,1.0),(34,0.8),
             (37.5,1.0),(40,0.3),(42.4,0.8),(44.5,0.8),(50,0)]
xrd_21_met = [(5,0),(6.6,0.8),(6.8,15.7),(7.0,10.0),(7.3,0.4),(8.8,0.4),(9.0,6.7),(9.3,0.8),(10.1,1.3),(10.3,13.4),
              (10.5,11.7),(10.8,0.3),(13.2,0.4),(13.4,11.7),(13.6,6.7),(13.9,0.4),(14.3,1.7),(14.8,1.3),(15.0,0.8),
              (15.6,6.7),(15.9,0.6),(16.7,2.3),(17.1,1.3),(17.5,2.5),(17.9,2.1),(18.6,3.3),(19.1,0.8),(19.9,2.9),
              (20.2,7.5),(20.45,38.4),(20.6,33.4),(20.8,1.7),(21.5,0.8),(21.9,3.2),(22.4,1.7),(22.8,2.5),(23.1,8.5),
              (23.4,5.4),(23.7,2.1),(24.3,2.1),(24.7,0.7),(25.3,4.6),(25.7,1.5),(26.4,7.1),(26.6,3.8),(26.9,5.8),
              (27.2,1.3),(27.9,0.8),(28.2,2.7),(28.6,0.7),(30.2,1.7),(30.7,2.1),(31.1,3.2),(31.5,0.7),(33.3,2.1),
              (33.8,0.7),(34.6,1.3),(36.4,0.8),(37.9,2.7),(38.3,0.4),(41.0,1.3),(42.5,1.5),(43.7,1.0),(44.6,1.0),(50,0)]
xrd_21_mm = [(5,0),(6.5,0.6),(6.9,3.5),(7.2,0.6),(8.0,0.4),(8.9,2.7),(9.3,1.8),(9.5,1.0),(10.3,3.9),(10.6,0.6),
             (12.0,0.4),(12.5,5.6),(12.8,1.0),(13.3,6.3),(13.5,8.3),(13.8,2.3),(14.2,1.8),(14.8,0.8),(15.5,2.1),
             (15.9,0.6),(16.5,0.8),(17.2,1.8),(17.9,8.9),(18.3,9.8),(18.5,11.0),(18.9,7.3),(19.4,1.8),(19.8,3.1),
             (20.0,14.6),(20.3,11.9),(20.55,26.1),(20.8,7.3),(21.1,2.3),(21.6,3.9),(21.9,4.8),(22.3,2.7),(22.6,7.3),
             (22.9,9.1),(23.3,6.9),(23.8,3.1),(24.1,5.6),(24.4,2.7),(25.0,2.7),(25.5,4.3),(25.8,3.5),(26.2,2.7),
             (26.5,14.4),(26.8,13.5),(27.1,8.1),(27.4,2.3),(28.0,1.4),(28.3,6.3),(28.6,1.4),(29.4,2.7),(29.9,1.0),
             (30.5,2.3),(30.9,2.1),(31.5,1.0),(32.4,1.0),(35.0,1.0),(38.0,1.0),(41.0,1.0),(43.7,1.2),(47,0.6),(50,0)]
xrd_21_pm = [(5,0),(7.0,0.3),(8.5,-0.2),(10.2,0.6),(10.6,0),(12.3,-0.2),(12.7,1.3),(13.0,7.1),(13.2,10.4),(13.4,9.6),
             (13.6,0.8),(14.0,2.9),(14.3,1.7),(14.6,3.1),(14.9,7.1),(15.2,12.9),(15.5,12.1),(15.7,5.8),(15.9,8.8),
             (16.2,2.9),(16.5,0.4),(17.1,2.5),(17.5,0.4),(18.4,1.3),(18.7,6.3),(18.9,3.8),(19.2,2.5),(19.6,13.8),
             (19.9,7.1),(20.2,5.4),(20.6,8.8),(20.9,6.3),(21.3,2.1),(21.8,2.5),(22.1,10.0),(22.3,5.4),(22.5,5.8),
             (22.8,1.7),(23.2,8.8),(23.5,6.3),(23.8,7.1),(24.1,8.8),(24.4,2.9),(24.8,11.3),(25.0,15.9),(25.3,5.4),
             (25.6,3.8),(25.9,1.9),(26.4,3.8),(26.8,9.2),(27.0,7.9),(27.3,18.8),(27.5,17.2),(27.8,12.9),(28.0,2.1),
             (28.4,1.7),(29.6,2.5),(30.0,2.9),(30.5,1.9),(31.0,1.7),(32.2,4.6),(32.6,1.3),(33.6,2.9),(33.9,1.3),
             (35.0,1.9),(35.5,0.8),(36.9,2.9),(37.3,1.3),(38.9,1.4),(39.5,0.6),(40.9,1.9),(41.5,1.1),(42.5,1.3),
             (44.0,0.6),(46.6,1.7),(47.2,0.4),(49.0,0.8),(50,0.2)]

ratios = ["CBZ:NIC=1:1", "CBZ:NIC=1:2", "CBZ:NIC=2:1"]
ftir_names = ["CBZ", "NIC", "PM", "MM", "MET", "ACE", "ACN", "ET"]
xrd_names = ["ACE", "ACN", "ET", "MET", "MM", "PM"]
peak_nh_cbz, peak_nh_cc = 3465, 3446
peak_nh2_cc, peak_nh2_nic = 3391, 3366
peak_nh_cc2, peak_nh_cbz2 = 3208, 3160

ftir_sets = [
    dict(CBZ=ftir_cbz, NIC=ftir_nic, PM=ftir_11_pm, MM=ftir_11_mm, MET=ftir_11_met, ACE=ftir_11_ace, ACN=ftir_11_acn, ET=ftir_11_et),
    dict(CBZ=ftir_cbz, NIC=ftir_nic, PM=ftir_12_pm, MM=ftir_12_mm, MET=ftir_12_met, ACE=ftir_12_ace, ACN=ftir_12_acn, ET=ftir_12_et),
    dict(CBZ=ftir_cbz, NIC=ftir_nic, PM=ftir_21_pm, MM=ftir_21_mm, MET=ftir_21_met, ACE=ftir_21_ace, ACN=ftir_21_acn, ET=ftir_21_et),
]
xrd_sets = [
    dict(ACE=xrd_11_ace, ACN=xrd_11_acn, ET=xrd_11_et, MET=xrd_11_met, MM=xrd_11_mm, PM=xrd_11_pm),
    dict(ACE=xrd_12_ace, ACN=xrd_12_acn, ET=xrd_12_et, MET=xrd_12_met, MM=xrd_12_mm, PM=xrd_12_pm),
    dict(ACE=xrd_21_ace, ACN=xrd_21_acn, ET=xrd_21_et, MET=xrd_21_met, MM=xrd_21_mm, PM=xrd_21_pm),
]

# ---------------- layout / style ----------------
ftir_colors = {"CBZ": "#000000", "NIC": "#A0662B", "PM": "#FF2222", "MM": "#FF8C1A",
               "MET": "#1A52A8", "ACE": "#136A34", "ACN": "#8C8C8C", "ET": "#B245A8"}
xrd_colors = {"ACE": "#0E6830", "ACN": "#8A8A8A", "ET": "#A23A98", "MET": "#1A4FA6",
              "MM": "#FF8418", "PM": "#F22A1E"}
c_red, c_blue, c_green = "#FF2D2D", "#2E4FB0", "#1F9E35"
xrd_offsets = [dict(ACE=79.3, ACN=66.1, ET=51.8, MET=36.4, MM=21.1, PM=4.8),
               dict(ACE=76.2, ACN=61.8, ET=48.5, MET=34.0, MM=18.8, PM=3.2),
               dict(ACE=76.3, ACN=58.9, ET=48.7, MET=33.8, MM=18.2, PM=1.7)]
xrd_label_y = dict(ACE=84.0, ACN=69.1, ET=54.4, MET=39.4, MM=24.5, PM=9.7)
green_y = [1.64, 1.48, 1.64]
blue_low = [0.545, 0.43, 0.43]
green_low = [0.58, 0.41, 0.39]

W, H = 2652, 2795
row_bottom = [1 - 839 / H, 1 - 1741 / H, 1 - 2637 / H]
ax_h = 720 / H
dash = (0, (3.5, 2.5))


def style_ticks(ax):
    ax.tick_params(axis='both', which='both', direction='out', length=7, width=1.8, labelsize=34)
    ax.tick_params(axis='x', pad=12)
    ax.tick_params(axis='y', pad=6)


def draw_ftir(ax, curves, k):
    for name in ftir_names:
        wn, ab = np.array(curves[name]).T
        ax.plot(wn, ab, color=ftir_colors[name], lw=2.5, label=name, solid_joinstyle='round')
    ax.set_xlim(3600, 3100)
    ax.set_ylim(0, 2.0)
    ax.set_xticks([3600, 3500, 3400, 3300, 3200, 3100])
    ax.set_yticks([0.0, 0.5, 1.0, 1.5, 2.0])
    ax.set_yticklabels(["0.0", "0.5", "1.0", "1.5", "2.0"])
    style_ticks(ax)
    ax.set_xlabel(r"Wavenumbers (cm$^{\mathregular{-1}}$)", fontsize=34)
    ax.set_ylabel("Absorbance", fontsize=34)
    ax.xaxis.set_label_coords(0.5, -0.118)
    ax.yaxis.set_label_coords(-0.072, 0.5)

    h, l = ax.get_legend_handles_labels()
    order = [0, 4, 1, 5, 2, 6, 3, 7]
    leg = ax.legend([h[i] for i in order], [l[i] for i in order], ncol=4, loc='upper left',
                    bbox_to_anchor=(0.006, 0.993), borderaxespad=0, frameon=False, fontsize=25,
                    handlelength=1.58, handletextpad=0.32, columnspacing=0.62, labelspacing=0.67)
    for line in leg.get_lines():
        line.set_linewidth(3.0)
    ax.text(0.737, 0.92, ratios[k], transform=ax.transAxes, ha='center', va='center', fontsize=33)

    # NH (CBZ) shift
    for x in (peak_nh_cbz, peak_nh_cc):
        ax.plot([x, x], [0.30, 1.417], color=c_red, lw=2.2, ls=dash)
    ax.annotate("", xy=(3449, 1.42), xytext=(3463.5, 1.42),
                arrowprops=dict(arrowstyle='-|>,head_length=0.5,head_width=0.18', color=c_red, lw=2))
    ax.text(3469.8, 1.422, r"%d cm$^{\mathregular{-1}}$" % peak_nh_cbz, color=c_red, ha='right', va='center', fontsize=12.5)
    ax.text(3483.5, 1.365, "CBZ", color=c_red, ha='center', va='center', fontsize=12.5)
    ax.text(3442.9, 1.405, r"%d cm$^{\mathregular{-1}}$" % peak_nh_cc, color=c_red, ha='left', va='center', fontsize=12.5)
    ax.text(3456.6, 1.485, "NH", color=c_red, ha='center', va='center', fontsize=18)

    # NH2 (NIC) shift
    for x in (peak_nh2_cc, peak_nh2_nic):
        ax.plot([x, x], [blue_low[k], 1.511], color=c_blue, lw=2.2, ls=dash)
    ax.annotate("", xy=(3388.6, 1.511), xytext=(3367.4, 1.511),
                arrowprops=dict(arrowstyle='-|>,head_length=0.5,head_width=0.18', color=c_blue, lw=2))
    ax.text(3395.2, 1.546, r"%d cm$^{\mathregular{-1}}$" % peak_nh2_cc, color=c_blue, ha='right', va='center', fontsize=12.5)
    ax.text(3362.6, 1.546, r"%d cm$^{\mathregular{-1}}$" % peak_nh2_nic, color=c_blue, ha='left', va='center', fontsize=12.5)
    ax.text(3377, 1.616, r"NH$_{\mathregular{2}}$", color=c_blue, ha='center', va='center', fontsize=19)
    ax.text(3346, 1.610, "NIC", color=c_blue, ha='center', va='center', fontsize=12.5)

    # NH (CBZ, 3160) shift
    gy = green_y[k]
    for x in (peak_nh_cc2, peak_nh_cbz2):
        ax.plot([x, x], [green_low[k], gy + 0.005], color=c_green, lw=2.2, ls=dash)
    ax.annotate("", xy=(3199, gy), xytext=(3165.8, gy),
                arrowprops=dict(arrowstyle='-|>,head_length=0.5,head_width=0.18', color=c_green, lw=2))
    ax.text(3210.8, gy, r"%d cm$^{\mathregular{-1}}$" % peak_nh_cc2, color=c_green, ha='right', va='center', fontsize=12.5)
    ax.text(3149.9, gy, r"%d cm$^{\mathregular{-1}}$" % peak_nh_cbz2, color=c_green, ha='left', va='center', fontsize=12.5)
    ax.text(3182, gy + 0.073, "NH", color=c_green, ha='center', va='center', fontsize=18)
    ax.text(3136.6, gy + 0.076, "CBZ", color=c_green, ha='center', va='center', fontsize=12.5)


def draw_xrd(ax, patterns, k):
    for name in xrd_names:
        tt, inten = np.array(patterns[name]).T
        ax.plot(tt, inten + xrd_offsets[k][name], color=xrd_colors[name], lw=1.6)
        ax.text(2.9, xrd_label_y[name], name, color=xrd_colors[name], ha='center', va='center', fontsize=26)
    ax.set_xlim(0, 50)
    ax.set_ylim(0, 100)
    ax.set_xticks([0, 10, 20, 30, 40, 50])
    ax.xaxis.set_minor_locator(MultipleLocator(5))
    ax.set_yticks([])
    style_ticks(ax)
    ax.set_xlabel("Two-Theta (deg)", fontsize=34)
    ax.set_ylabel("Intensity (CPS)", fontsize=34)
    ax.xaxis.set_label_coords(0.5, -0.141)
    ax.yaxis.set_label_coords(-0.025, 0.5)
    ax.text(37.1, 92.8, ratios[k], ha='center', va='center', fontsize=33)


fig = plt.figure(figsize=(W / 100, H / 100), dpi=100)
for k in range(3):
    ax_l = fig.add_axes([183 / W, row_bottom[k], 1133 / W, ax_h])
    draw_ftir(ax_l, ftir_sets[k], k)
    ax_r = fig.add_axes([1486 / W, row_bottom[k], 1132 / W, ax_h])
    draw_xrd(ax_r, xrd_sets[k], k)

letter_base = [1 - 63 / H, 1 - 1002 / H, 1 - 1903 / H]
for k, (la, lb) in enumerate([("A", "B"), ("C", "D"), ("E", "F")]):
    fig.text(8 / W, letter_base[k], la, fontsize=47, fontweight='bold', va='baseline', ha='left')
    fig.text(1347 / W, letter_base[k], lb, fontsize=47, fontweight='bold', va='baseline', ha='left')

fig.savefig("out.png", dpi=100)
